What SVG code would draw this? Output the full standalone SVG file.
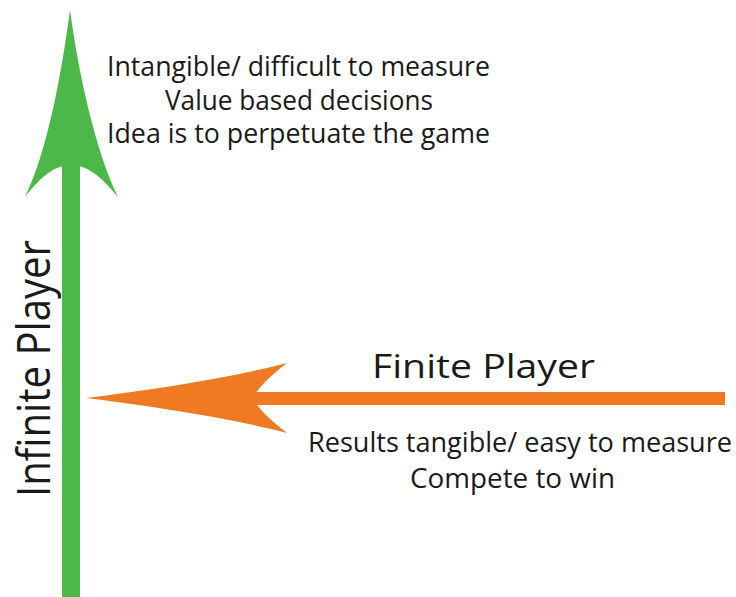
<svg xmlns="http://www.w3.org/2000/svg" width="736" height="597" viewBox="0 0 736 597">
<style>
text{font-family:"Open Sans","Noto Sans","Liberation Sans",sans-serif;fill:#1a1a1a;text-anchor:middle}
.s{font-size:28px}
.r{font-size:27px}
.b{font-size:32px}
</style>
<rect width="736" height="597" fill="#ffffff"/>
<g id="connectors">
<g id="infinite-arrow">
<rect x="62" y="160" width="18" height="437" fill="#4cb84a"/>
<path d="M70 10 C78 70 95 150 118 197 C100 175 86 165 71 165 C56 165 42 175 25 197 C48 150 62 70 70 10 Z" fill="#4cb84a"/>
</g>
<g id="finite-arrow">
<rect x="250" y="392" width="475" height="13" fill="#f07a22"/>
<path d="M86 398 C150 390 230 378 287 363 C268 378 258 388 253 398 C258 408 268 418 287 433 C230 418 150 406 86 398 Z" fill="#f07a22"/>
</g>
</g>
<g id="infinite-label">
<text transform="translate(50 368.5) rotate(-90) scale(1 1.1)" font-size="41" textLength="257" lengthAdjust="spacingAndGlyphs">Infinite Player</text>
<text class="s" x="298.5" y="76" textLength="383" lengthAdjust="spacingAndGlyphs">Intangible/ difficult to measure</text>
<text class="s" x="299" y="110" textLength="268" lengthAdjust="spacingAndGlyphs">Value based decisions</text>
<text class="s" x="298.5" y="143" textLength="383" lengthAdjust="spacingAndGlyphs">Idea is to perpetuate the game</text>
</g>
<g id="finite-label">
<text class="b" x="483.5" y="378" textLength="223" lengthAdjust="spacingAndGlyphs">Finite Player</text>
<text class="r" x="520" y="452" textLength="424" lengthAdjust="spacingAndGlyphs">Results tangible/ easy to measure</text>
<text class="r" x="512.5" y="488" textLength="205" lengthAdjust="spacingAndGlyphs">Compete to win</text>
</g>
</svg>
